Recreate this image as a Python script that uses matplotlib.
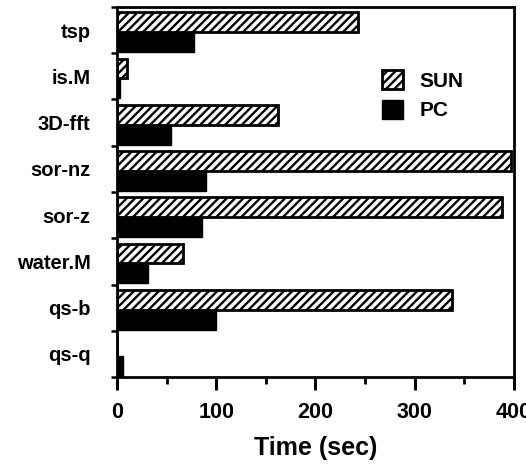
import numpy as np
import matplotlib.pyplot as plt
from matplotlib.ticker import MultipleLocator

plt.rcParams['font.family'] = ['Liberation Sans', 'DejaVu Sans']
plt.rcParams['font.weight'] = 'bold'
plt.rcParams['hatch.linewidth'] = 1.7

programs = ["tsp", "is.M", "3D-fft", "sor-nz", "sor-z", "water.M", "qs-b", "qs-q"]
sun = [243, 10, 162, 397, 388, 67, 338, 0]
pc = [78, 3, 54, 90, 86, 31, 100, 6]

fig = plt.figure(figsize=(5.26, 4.65), dpi=100)
ax = fig.add_axes([0.2224, 0.1892, 0.7548, 0.7958])

y = np.arange(len(programs))
h = 0.43
ax.barh(y - 0.17, sun, height=h, color="white", edgecolor="black",
        linewidth=2.0, hatch="////", label="SUN")
ax.barh(y + 0.26, pc, height=h, color="black", edgecolor="black",
        linewidth=1.0, label="PC")

ax.set_xlim(0, 400)
ax.set_ylim(len(programs) - 0.5, -0.5)

ax.set_yticks(y)
ax.set_yticklabels(programs, fontsize=14.5, fontweight="bold")
ax.set_yticks(np.arange(len(programs) + 1) - 0.5, minor=True)
ax.tick_params(axis="y", which="major", length=0, pad=19)
ax.tick_params(axis="y", which="minor", length=4, width=1.8, direction="out")

ax.xaxis.set_major_locator(MultipleLocator(100))
ax.xaxis.set_minor_locator(MultipleLocator(50))
ax.tick_params(axis="x", which="major", length=9, width=2.2, direction="out",
               labelsize=15.5, pad=9)
ax.tick_params(axis="x", which="minor", length=5, width=2.0, direction="out")
for lab in ax.get_xticklabels():
    lab.set_fontweight("bold")

for s in ax.spines.values():
    s.set_linewidth(2.0)

ax.set_xlabel("Time (sec)", fontsize=18, fontweight="bold", labelpad=9)

ax.legend(loc="upper left", bbox_to_anchor=(0.62, 0.88), frameon=False,
          handlelength=1.0, handleheight=1.0, handletextpad=0.8,
          labelspacing=0.45, prop={"weight": "bold", "size": 15})

fig.savefig("out.png", dpi=100)
